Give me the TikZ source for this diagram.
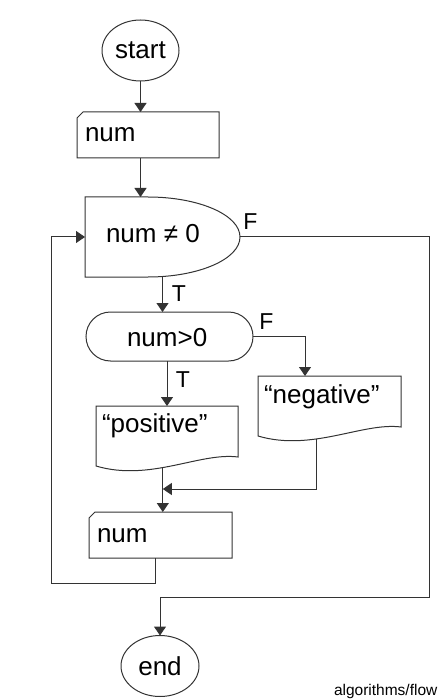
\documentclass[tikz,border=0pt]{standalone}
\usepackage{fontspec}
\setmainfont{Liberation Sans}
\usetikzlibrary{shapes.geometric,arrows.meta,calc}
\begin{document}
\begin{tikzpicture}[x=1pt,y=-1pt,line width=1pt,
  every node/.style={inner sep=0pt,outer sep=0pt},
  box/.style={draw=none,rectangle},
  txt/.style={font=\fontsize{26}{30}\selectfont},
  lbl/.style={font=\fontsize{23}{26}\selectfont},
  ln/.style={draw=black!80},
  arr/.style={ln,-{Triangle[width=12pt,length=9pt]}},
  term/.style={ln,ellipse,txt}]
\useasboundingbox (0,0) rectangle (442,700);
% start
\node[term,draw,minimum width=77pt,minimum height=61pt] (start) at (140.5,50.5) {start};
% input 1
\node[box,minimum width=142pt,minimum height=46pt] (in1) at (148,135) {};
\draw[ln] ([yshift=-6pt]in1.north west) -- ([xshift=6pt]in1.north west) -- (in1.north east) -- (in1.south east) -- (in1.south west) -- cycle;
\node[txt,anchor=base west] (in1t) at (85,142) {num};
% decision (delay shape)
\node[box,minimum width=155pt,minimum height=80pt] (d1) at (162.5,237) {};
\draw[ln] (d1.north west) -- (148,197) .. controls (198.8,197) and (240,214.9) .. (240,237)
  .. controls (240,259.1) and (198.8,277) .. (148,277) -- (d1.south west) -- cycle;
\node[txt,anchor=base west] (d1t) at (106,243) {num ≠ 0};
% num>0
\node[ln,draw,rectangle,rounded corners=24.5pt,minimum width=167pt,minimum height=49pt] (c2) at (169.5,336.5) {};
\node[txt,anchor=base west] (c2t) at (127,346) {num>0};
% positive
\node[box,minimum width=142pt,minimum height=51pt] (pos) at (167,431.5) {};
\draw[ln] (pos.south west |- pos.north) -- (pos.north east) -- (238,457)
  .. controls (200,452) and (150,482) .. (96,466) coordinate[pos=0.57] (posb) -- cycle;
\node[txt,anchor=base west] (post) at (102,432) {“positive”};
% negative
\node[box,minimum width=143pt,minimum height=51pt] (neg) at (329.5,401.5) {};
\draw[ln] (neg.north west) -- (neg.north east) -- (401,427)
  .. controls (363,422) and (312,452) .. (258,436) coordinate[pos=0.63] (negb) -- cycle;
\node[txt,anchor=base west] (negt) at (264,403) {“negative”};
% input 2
\node[box,minimum width=143pt,minimum height=46pt] (in2) at (160.5,535) {};
\draw[ln] ([yshift=-6pt]in2.north west) -- ([xshift=6pt]in2.north west) -- (in2.north east) -- (in2.south east) -- (in2.south west) -- cycle;
\node[txt,anchor=base west] (in2t) at (97,542) {num};
% end
\node[term,draw,minimum width=78pt,minimum height=61pt] (end) at (160,666) {end};
% coordinates
\coordinate (m) at (163,489);
\coordinate (lp1) at (155,583);
\coordinate (lp2) at (51,583);
\coordinate (fr1) at (429,597);
\coordinate (fr2) at (160,597);
\coordinate (nf) at (305,376);
% connectors
\draw[arr] (start.south) -- (start.south |- in1.north);
\draw[arr] (in1.south -| start.south) -- (d1.north -| start.south);
\draw[arr] (d1.south) -- (d1.south |- c2.north);
\draw[arr] (pos.north |- c2.south) -- (pos.north);
\draw[arr] (c2.east) -| (nf);
\draw[ln] (posb) -- (posb |- m);
\draw[arr] (negb) |- (posb |- m);
\draw[arr] (posb |- m) -- (posb |- in2.north);
\draw[arr] (in2.south -| lp1) -- (lp1) -- (lp2) |- (d1.west);
\draw[arr] (d1.east) -| (fr1) -- (fr2) -- (end.north);
% labels
\node[lbl] (f1) at (250.5,222) {F};
\node[lbl] (t1) at (179,294) {T};
\node[lbl] (f2) at (266.5,322) {F};
\node[lbl] (t2) at (183,380) {T};
\node[font=\fontsize{15.5}{18}\selectfont,anchor=base west] (cap) at (334,695.5) {algorithms/flow};
\end{tikzpicture}
\end{document}
